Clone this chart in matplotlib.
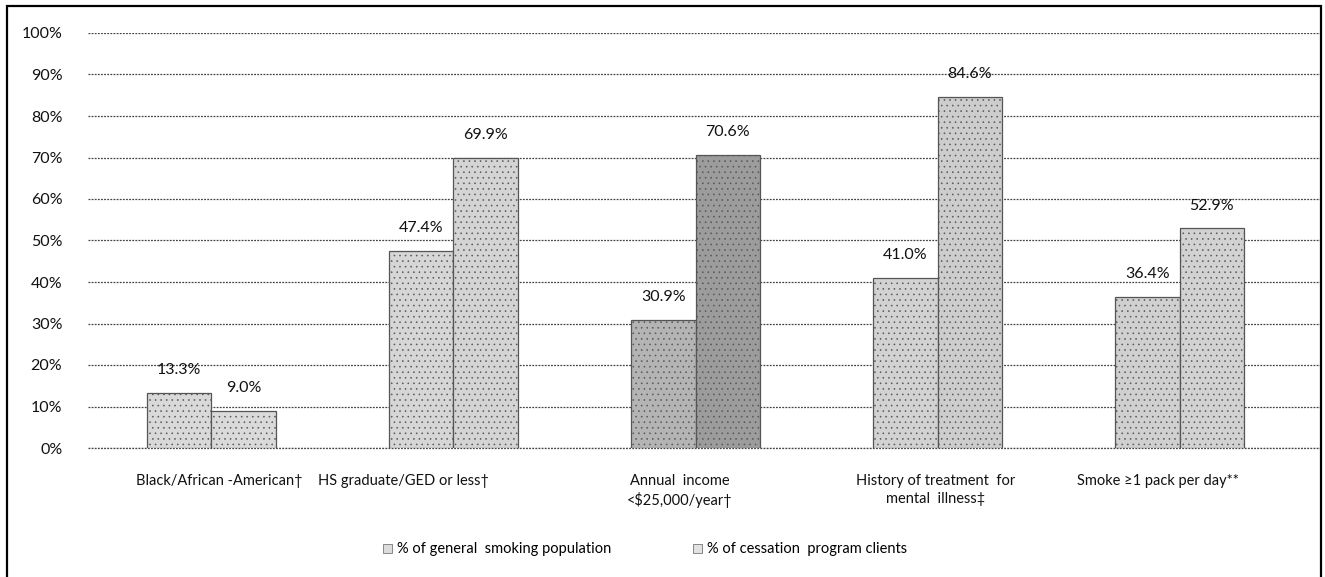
import matplotlib
matplotlib.use("Agg")
import matplotlib.pyplot as plt
from matplotlib.patches import Patch, Rectangle
import numpy as np

plt.rcParams["font.family"] = ["Lato", "DejaVu Sans"]
plt.rcParams["hatch.linewidth"] = 0.4

categories = [
    "Black/African -American\u2020",
    "HS graduate/GED or less\u2020",
    "Annual  income\n<$25,000/year\u2020",
    "History of treatment  for\nmental  illness\u2021",
    "Smoke \u22651 pack per day**",
]
general_pop = [13.3, 47.4, 30.9, 41.0, 36.4]
program_clients = [9.0, 69.9, 70.6, 84.6, 52.9]
series_names = ["% of general  smoking population", "% of cessation  program clients"]
yticks = [0, 10, 20, 30, 40, 50, 60, 70, 80, 90, 100]

# per-bar shades (scan is noisy, approximate average tone)
general_colors = ["#d9d9d9", "#d6d6d6", "#b4b4b4", "#d2d2d2", "#d0d0d0"]
client_colors = ["#dadada", "#d4d4d4", "#9c9c9c", "#cdcdcd", "#d2d2d2"]
label_shift = [8, -50, -16, -2, -22]  # px offsets of category labels

fig = plt.figure(figsize=(13.25, 5.77), dpi=100)
ax = fig.add_axes([88 / 1325, 1 - 448 / 577, (1320 - 88) / 1325, (448 - 33) / 577])

x = np.arange(len(categories))
w = 0.265
b1 = ax.bar(x - w / 2, general_pop, w, color=general_colors, edgecolor="#555555",
            linewidth=0.9, hatch="...", zorder=3)
b2 = ax.bar(x + w / 2, program_clients, w, color=client_colors, edgecolor="#555555",
            linewidth=0.9, hatch="...", zorder=3)

for bars, vals in ((b1, general_pop), (b2, program_clients)):
    for r, v in zip(bars, vals):
        ax.annotate(f"{v:.1f}%", (r.get_x() + r.get_width() / 2, v),
                    xytext=(0, 16.5), textcoords="offset points",
                    ha="center", va="center", fontsize=11.5, color="#111111", zorder=4)

for xi, cat, dx in zip(x, categories, label_shift):
    ax.annotate(cat, (xi, 0), xytext=(dx * 0.72, -19), textcoords="offset points",
                ha="center", va="top", fontsize=10.5, linespacing=1.3, color="#111111")

ax.set_xlim(-0.51, 4.58)
ax.set_ylim(0, 100)
ax.set_yticks(yticks)
ax.set_yticklabels([f"{t}%" for t in yticks], fontsize=11.5, color="#111111")
ax.set_xticks([])
ax.tick_params(axis="y", length=0, pad=18.5)
ax.yaxis.grid(True, linestyle=(0, (1.5, 1)), color="#444444", linewidth=0.9, zorder=0)
ax.axhline(0, linestyle=(0, (1.5, 1)), color="#444444", linewidth=0.9, zorder=1, clip_on=False)
for s in ax.spines.values():
    s.set_visible(False)

handles = [Patch(facecolor="#dcdcdc", edgecolor="#777777", linewidth=0.6),
           Patch(facecolor="#e2e2e2", edgecolor="#777777", linewidth=0.6)]
fig.legend(handles, series_names, loc="center", bbox_to_anchor=(0.487, 0.048),
           ncol=2, frameon=False, fontsize=10.5, handlelength=0.6, handleheight=0.6,
           handletextpad=0.35, columnspacing=5.6)

# scanned page frame
fig.patches.append(Rectangle((0.005, -0.01), 0.992, 1.0, transform=fig.transFigure,
                             fill=False, edgecolor="black", linewidth=1.6))

fig.savefig("out.png", dpi=100)
